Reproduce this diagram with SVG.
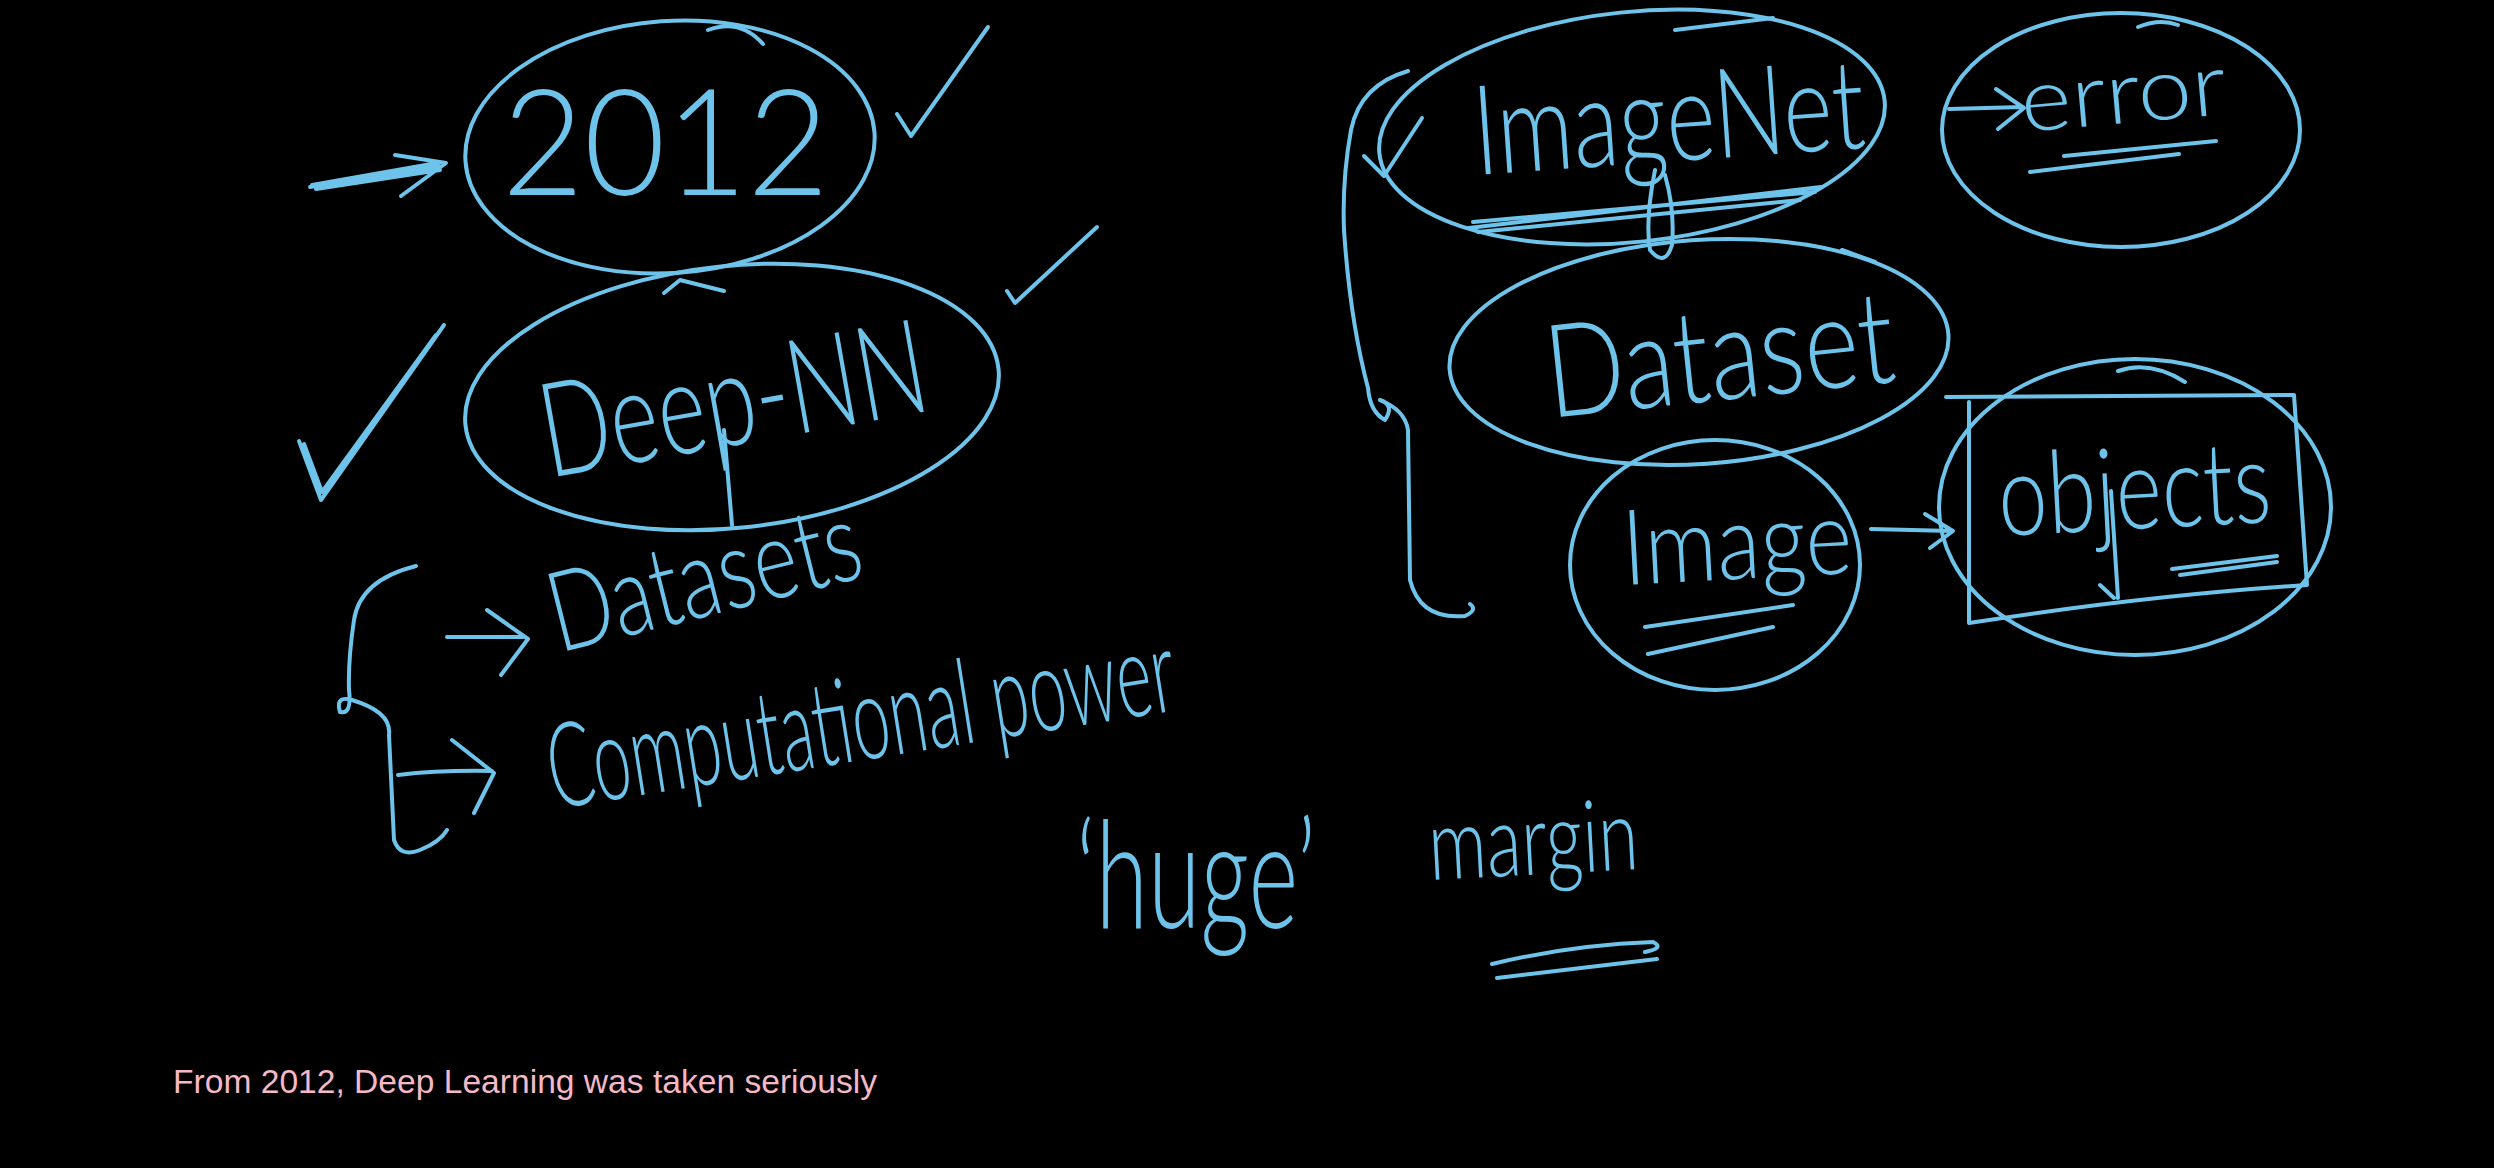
<svg xmlns="http://www.w3.org/2000/svg" width="2494" height="1168" viewBox="0 0 2494 1168">
<style>
.ink{fill:none;stroke:#6EC3EA;stroke-width:4;stroke-linecap:round;stroke-linejoin:round}
.hw{fill:#6EC3EA;font-family:Lato,"Open Sans","DejaVu Sans",sans-serif;font-weight:300}
.cap{fill:#F4B8C6;font-family:"Liberation Sans",sans-serif;font-size:33px}
</style>
<rect width="2494" height="1168" fill="#000"/>
<g id="connectors">
<path class="ink" d="M310,187 L439,166 M312,185 L437,163 M316,189 L440,170 M395,155 L446,163 L401,196"/>
<path class="ink" d="M447,637 L523,637 M487,610 L528,639 L501,675"/>
<path class="ink" d="M398,775 Q440,770 492,771 M452,740 L494,773 L474,813"/>
<path class="ink" d="M1949,109 L2023,107 M1996,89 L2024,108 L1998,129"/>
<path class="ink" d="M1871,529 L1952,531 M1925,514 L1953,531 L1930,548"/>
</g>
<g id="n-2012">
<ellipse class="ink" cx="670" cy="147" rx="205" ry="126" transform="rotate(-4 670 147)"/>
<path class="ink" d="M708,30 Q740,18 763,44"/>
<text class="hw" x="502" y="195" font-size="148" textLength="327" lengthAdjust="spacingAndGlyphs">2012</text>
</g>
<g id="n-check1"><path class="ink" d="M897,114 L911,136 L988,27"/></g>
<g id="n-deepnn">
<ellipse class="ink" cx="732" cy="397" rx="268" ry="131" transform="rotate(-6 732 397)"/>
<path class="ink" d="M664,293 L680,280 L724,291"/>
<path class="ink" d="M724,430 L732,525"/>
<text class="hw" x="549" y="478" font-size="132" textLength="390" lengthAdjust="spacingAndGlyphs" transform="rotate(-10 549 478)">Deep-NN</text>
</g>
<g id="n-check2"><path class="ink" d="M299,441 L321,500 L444,325 M304,444 L322,492 L436,335"/></g>
<g id="n-check3"><path class="ink" d="M1007,291 L1015,303 L1097,227"/></g>
<g id="n-brace-left">
<path class="ink" d="M416,566 Q360,580 354,620 Q348,660 349,690 Q352,715 340,712 Q335,695 352,700 Q392,712 389,735 L394,840 Q400,858 420,850 Q440,842 447,830"/>
</g>
<g id="n-datasets">
<text class="hw" x="559" y="653" font-size="112" textLength="318" lengthAdjust="spacingAndGlyphs" transform="rotate(-14 559 653)">Datasets</text>
</g>
<g id="n-power">
<text class="hw" x="554" y="809" font-size="118" textLength="634" lengthAdjust="spacingAndGlyphs" transform="rotate(-9 554 809)">Computational power</text>
</g>
<g id="n-huge">
<text class="hw" x="1076" y="928" font-size="150" textLength="240" lengthAdjust="spacingAndGlyphs">‘huge’</text>
</g>
<g id="n-margin">
<text class="hw" x="1430" y="880" font-size="100" textLength="210" lengthAdjust="spacingAndGlyphs" transform="rotate(-3 1430 880)">margin</text>
<path class="ink" d="M1492,964 Q1570,945 1653,942 Q1665,948 1645,952 M1497,978 L1657,959"/>
</g>
<g id="n-brace-right">
<path class="ink" d="M1408,71 Q1360,85 1351,130 Q1342,180 1344,230 Q1350,320 1368,388 Q1370,412 1385,420 Q1395,405 1380,400 Q1405,410 1408,430 L1410,580 Q1420,620 1465,616 Q1478,610 1470,604"/>
<path class="ink" d="M1364,156 L1384,176 L1422,118"/>
</g>
<g id="n-imagenet">
<ellipse class="ink" cx="1632" cy="127" rx="254" ry="115" transform="rotate(-6 1632 127)"/>
<path class="ink" d="M1675,30 Q1740,22 1773,18"/>
<text class="hw" x="1476" y="175" font-size="125" textLength="392" lengthAdjust="spacingAndGlyphs" transform="rotate(-4 1476 175)">ImageNet</text>
<path class="ink" d="M1469,228 L1821,187 M1473,222 L1815,192 M1478,232 L1800,200"/>
<path class="ink" d="M1655,170 Q1645,220 1650,250 Q1665,268 1672,245 Q1675,210 1665,175"/>
</g>
<g id="n-error">
<ellipse class="ink" cx="2121" cy="130" rx="179" ry="117"/>
<path class="ink" d="M2138,27 Q2160,18 2178,25"/>
<text class="hw" x="2023" y="132" font-size="88" textLength="206" lengthAdjust="spacingAndGlyphs" transform="rotate(-5 2023 132)">error</text>
<path class="ink" d="M2064,156 L2216,141 M2030,172 L2179,154"/>
</g>
<g id="n-dataset">
<ellipse class="ink" cx="1699" cy="352" rx="250" ry="112" transform="rotate(-4 1699 352)"/>
<path class="ink" d="M1842,250 L1875,262"/>
<text class="hw" x="1550" y="418" font-size="130" textLength="350" lengthAdjust="spacingAndGlyphs" transform="rotate(-6 1550 418)">Dataset</text>
</g>
<g id="n-image">
<ellipse class="ink" cx="1715" cy="565" rx="145" ry="125"/>
<text class="hw" x="1624" y="585" font-size="105" textLength="230" lengthAdjust="spacingAndGlyphs" transform="rotate(-3 1624 585)">Image</text>
<path class="ink" d="M1645,627 L1793,605 M1648,654 L1773,627"/>
</g>
<g id="n-objects">
<ellipse class="ink" cx="2135" cy="507" rx="196" ry="148"/>
<path class="ink" d="M2118,371 Q2150,360 2185,382"/>
<path class="ink" d="M1946,397 L2294,395 L2307,585 Q2150,595 1969,623 L1969,402"/>
<text class="hw" x="2000" y="536" font-size="115" textLength="273" lengthAdjust="spacingAndGlyphs" transform="rotate(-3 2000 536)">objects</text>
<path class="ink" d="M2111,491 L2118,598 M2100,585 L2114,598"/>
<path class="ink" d="M2172,569 L2277,556 M2180,575 L2277,562"/>
</g>
<g id="caption">
<text class="cap" x="173" y="1093" textLength="704" lengthAdjust="spacingAndGlyphs">From 2012, Deep Learning was taken seriously</text>
</g>
</svg>
